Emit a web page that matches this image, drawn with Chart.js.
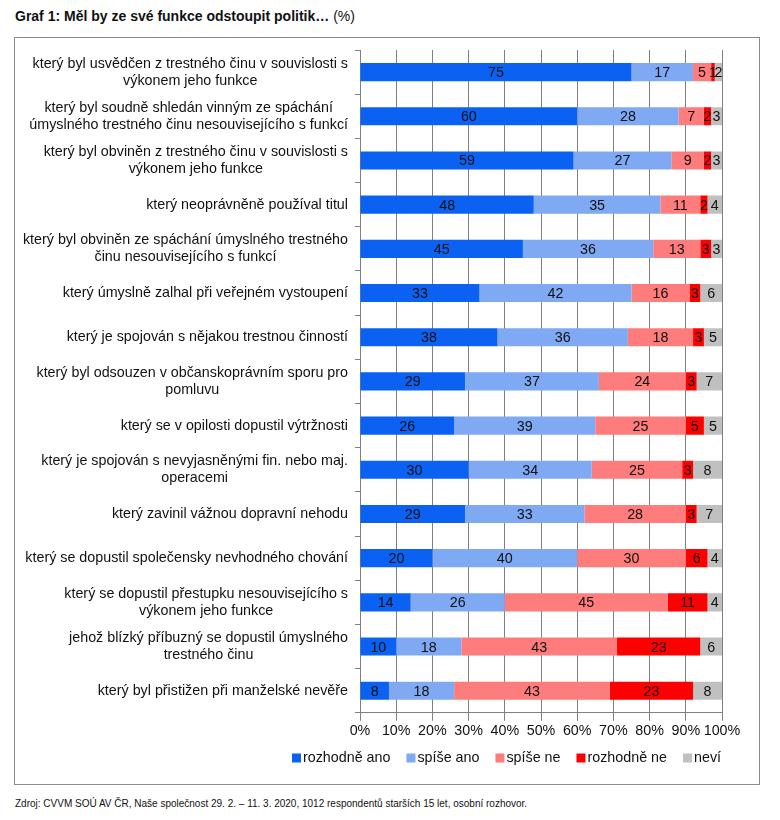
<!DOCTYPE html>
<html>
<head>
<meta charset="utf-8">
<script src="https://cdn.jsdelivr.net/npm/chart.js@4"></script>
<style>
  body { margin: 0; background: #fff; font-family: "Liberation Sans", Arial, sans-serif; }
  #title { position: absolute; left: 15px; top: 8px; font-size: 14px; font-weight: bold; color: #111; }
  #title span { font-weight: normal; }
  #box { position: absolute; left: 14px; top: 37px; width: 744px; height: 746px; border: 1px solid #8c8c8c; }
  #foot { position: absolute; left: 15px; top: 798px; font-size: 10px; color: #111; font-family: "Liberation Sans Narrow", "Liberation Sans", sans-serif; }
</style>
</head>
<body>
<div id="title">Graf 1: Měl by ze své funkce odstoupit politik… <span>(%)</span></div>
<div id="box"><canvas id="resignChart" width="744" height="746"></canvas></div>
<div id="foot">Zdroj: CVVM SOÚ AV ČR, Naše společnost 29. 2. – 11. 3. 2020, 1012 respondentů starších 15 let, osobní rozhovor.</div>
<script>
const categories = [
  ['který byl usvědčen z trestného činu v souvislosti s', 'výkonem jeho funkce'],
  ['který byl soudně shledán vinným ze spáchání', 'úmyslného trestného činu nesouvisejícího s funkcí'],
  ['který byl obviněn z trestného činu v souvislosti s', 'výkonem jeho funkce'],
  ['který neoprávněně používal titul'],
  ['který byl obviněn ze spáchání úmyslného trestného', 'činu nesouvisejícího s funkcí'],
  ['který úmyslně zalhal při veřejném vystoupení'],
  ['který je spojován s nějakou trestnou činností'],
  ['který byl odsouzen v občanskoprávním sporu pro', 'pomluvu'],
  ['který se v opilosti dopustil výtržnosti'],
  ['který je spojován s nevyjasněnými fin. nebo maj.', 'operacemi'],
  ['který zavinil vážnou dopravní nehodu'],
  ['který se dopustil společensky nevhodného chování'],
  ['který se dopustil přestupku nesouvisejícího s', 'výkonem jeho funkce'],
  ['jehož blízký příbuzný se dopustil úmyslného', 'trestného činu'],
  ['který byl přistižen při manželské nevěře']
];
const rozhodneAno = [75, 60, 59, 48, 45, 33, 38, 29, 26, 30, 29, 20, 14, 10, 8];
const spiseAno    = [17, 28, 27, 35, 36, 42, 36, 37, 39, 34, 33, 40, 26, 18, 18];
const spiseNe     = [5, 7, 9, 11, 13, 16, 18, 24, 25, 25, 28, 30, 45, 43, 43];
const rozhodneNe  = [1, 2, 2, 2, 3, 3, 3, 3, 5, 3, 3, 6, 11, 23, 23];
const nevi        = [2, 3, 3, 4, 3, 6, 5, 7, 5, 8, 7, 4, 4, 6, 8];
const seriesNames = ['rozhodně ano', 'spíše ano', 'spíše ne', 'rozhodně ne', 'neví'];
const seriesColors = ['#0B62F2', '#7FA9F3', '#FF7C7C', '#FF0000', '#C0C0C0'];
const xTicks = [0, 10, 20, 30, 40, 50, 60, 70, 80, 90, 100];

const FONT = '"Liberation Sans", Arial, sans-serif';
const SIZE = 14.3;

// numbers inside the segments
const valueLabels = {
  id: 'valueLabels',
  afterDatasetsDraw(chart) {
    const ctx = chart.ctx;
    ctx.save();
    ctx.font = SIZE + 'px ' + FONT;
    ctx.fillStyle = '#111';
    ctx.textAlign = 'center';
    ctx.textBaseline = 'middle';
    chart.data.datasets.forEach((ds, i) => {
      chart.getDatasetMeta(i).data.forEach((bar, j) => {
        ctx.fillText(ds.data[j], (bar.x + bar.base) / 2, bar.y + 1);
      });
    });
    ctx.restore();
  }
};

// category labels: block right aligned, lines centred inside block
const catLabels = {
  id: 'catLabels',
  afterDraw(chart) {
    const ctx = chart.ctx, y = chart.scales.y;
    ctx.save();
    ctx.font = SIZE + 'px ' + FONT;
    ctx.fillStyle = '#111';
    ctx.textAlign = 'center';
    ctx.textBaseline = 'middle';
    const right = y.left + y.width - 12;
    categories.forEach((lines, i) => {
      const w = Math.max(...lines.map(l => ctx.measureText(l).width));
      const cx = right - w / 2;
      const cy = y.getPixelForValue(i);
      lines.forEach((l, k) => {
        ctx.fillText(l, cx, cy + (k - (lines.length - 1) / 2) * 17);
      });
    });
    ctx.restore();
  }
};

// legend under the axis, right aligned with the plot
const bottomLegend = {
  id: 'bottomLegend',
  afterDraw(chart) {
    const ctx = chart.ctx;
    ctx.save();
    ctx.font = SIZE + 'px ' + FONT;
    ctx.textBaseline = 'middle';
    ctx.textAlign = 'left';
    const box = 9, gapText = 2, gapItem = 16, cy = 720;
    const widths = seriesNames.map(n => box + gapText + ctx.measureText(n).width);
    const total = widths.reduce((a, b) => a + b, 0) + gapItem * (widths.length - 1);
    let x = chart.chartArea.right - 1 - total;
    seriesNames.forEach((n, i) => {
      ctx.fillStyle = seriesColors[i];
      ctx.fillRect(x, cy - box / 2, box, box);
      ctx.fillStyle = '#111';
      ctx.fillText(n, x + box + gapText, cy);
      x += widths[i] + gapItem;
    });
    ctx.restore();
  }
};

new Chart(resignChart, {
  type: 'bar',
  data: {
    labels: categories.map(c => c.join(' ')),
    datasets: [rozhodneAno, spiseAno, spiseNe, rozhodneNe, nevi].map((d, i) => ({
      label: seriesNames[i],
      data: d,
      backgroundColor: seriesColors[i],
      barPercentage: 0.41,
      categoryPercentage: 1
    }))
  },
  options: {
    indexAxis: 'y',
    responsive: false,
    animation: false,
    layout: { padding: { left: 0, right: 37, top: 12, bottom: 42 } },
    scales: {
      x: {
        stacked: true,
        min: 0, max: 100,
        afterBuildTicks: s => { s.ticks = xTicks.map(v => ({ value: v })); },
        ticks: { autoSkip: false, callback: v => v + '%', color: '#111', font: { size: SIZE, family: FONT }, padding: 2, maxRotation: 0 },
        grid: { color: '#808080', tickLength: 8 },
        border: { color: '#808080' }
      },
      y: {
        stacked: true,
        afterFit: s => { s.width = 345; },
        ticks: { display: false },
        grid: { drawOnChartArea: false, color: '#808080', tickLength: 5 },
        border: { color: '#808080' }
      }
    },
    plugins: {
      legend: { display: false },
      tooltip: { enabled: false }
    }
  },
  plugins: [valueLabels, catLabels, bottomLegend]
});
</script>
</body>
</html>
